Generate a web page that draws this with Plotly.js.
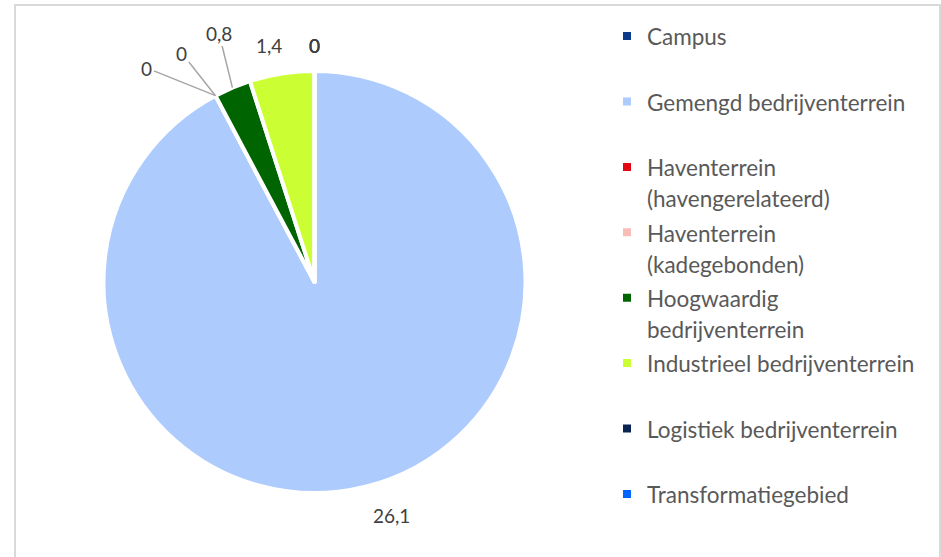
<!DOCTYPE html>
<html><head><meta charset="utf-8">
<script src="https://cdn.plot.ly/plotly-3.0.1.min.js"></script>
<style>html,body{margin:0;padding:0;background:#fff;overflow:hidden}#chart{width:941px;height:557px}</style>
</head><body><div id="chart"></div>
<script>
const categories = ['Campus','Gemengd bedrijventerrein','Haventerrein (havengerelateerd)','Haventerrein (kadegebonden)','Hoogwaardig bedrijventerrein','Industrieel bedrijventerrein','Logistiek bedrijventerrein','Transformatiegebied'];
const legendLines = [['Campus'],['Gemengd bedrijventerrein'],['Haventerrein','(havengerelateerd)'],['Haventerrein','(kadegebonden)'],['Hoogwaardig','bedrijventerrein'],['Industrieel bedrijventerrein'],['Logistiek bedrijventerrein'],['Transformatiegebied']];
const values = [0, 26.1, 0, 0, 0.8, 1.4, 0, 0];
const valueLabels = ['0','26,1','0','0','0,8','1,4','0','0'];
const colors = ['#0E3A8C','#ADCBFC','#E30613','#F9BDB8','#006400','#CCFF33','#0B2350','#0066FF'];

// styling: label offsets in px from slice anchor on the rim [dx, dy, withLeader]
const labelOffsets = [[0,-26,false],[25.5,29,false],[-68.6,-27.6,true],[-33.6,-42.6,true],[-13.5,-54.6,true],[-12.9,-28.5,false],[0,-26,false],[0,-26,false]];

const W = 941, H = 557;
const PIE = {cx: 314.5, cy: 282, r: 211};

const display = legendLines.map(lines => {
  const parts = lines.map(l => '<span style="font-size:22.5px">' + l + '</span>');
  if (parts.length === 1) parts.push(' ');
  return parts.join('<br>');
});

const total = values.reduce((a,b)=>a+b,0);
let cum = 0;
const annotations = values.map((v,i) => {
  const th = (cum + v/2) / total * 2 * Math.PI;
  cum += v;
  const px = PIE.cx + PIE.r * Math.sin(th);
  const py = PIE.cy - PIE.r * Math.cos(th);
  const [dx, dy, lead] = labelOffsets[i];
  const a = {
    xref:'paper', yref:'paper', x: px/W, y: 1 - py/H,
    text: valueLabels[i],
    font:{family:'Lato, sans-serif', size:19, color:'#404040'},
    xanchor:'center', yanchor:'middle'
  };
  if (lead) {
    Object.assign(a, {showarrow:true, ax:dx, ay:dy, arrowhead:0, arrowwidth:1.5, arrowcolor:'#A6A6A6', standoff:0, startstandoff:0});
  } else {
    Object.assign(a, {showarrow:false, xshift:dx, yshift:-dy});
  }
  return a;
});

const trace = {
  type:'pie',
  labels: display,
  values: values,
  sort:false,
  direction:'clockwise',
  rotation:0,
  textinfo:'none',
  hoverinfo:'skip',
  marker:{colors: colors, line:{color:'#FFFFFF', width:4}},
  domain:{x:[(PIE.cx-PIE.r)/W, (PIE.cx+PIE.r)/W], y:[1-(PIE.cy+PIE.r)/H, 1-(PIE.cy-PIE.r)/H]}
};

const layout = {
  width:W, height:H,
  margin:{l:0,r:0,t:0,b:0},
  paper_bgcolor:'#FFFFFF',
  showlegend:true,
  legend:{
    x:607/W, xanchor:'left', y:1-14/H, yanchor:'top',
    font:{family:'Lato, sans-serif', size:24, color:'#595959'},
    valign:'top', bgcolor:'rgba(0,0,0,0)'
  },
  annotations: annotations,
  shapes:[{type:'rect', xref:'paper', yref:'paper', x0:15/W, x1:940/W, y0:-0.05, y1:1-5/H, line:{color:'#D9D9D9', width:2}, fillcolor:'rgba(0,0,0,0)'}]
};

Plotly.newPlot('chart', [trace], layout, {displayModeBar:false, staticPlot:true});
</script>
</body></html>
